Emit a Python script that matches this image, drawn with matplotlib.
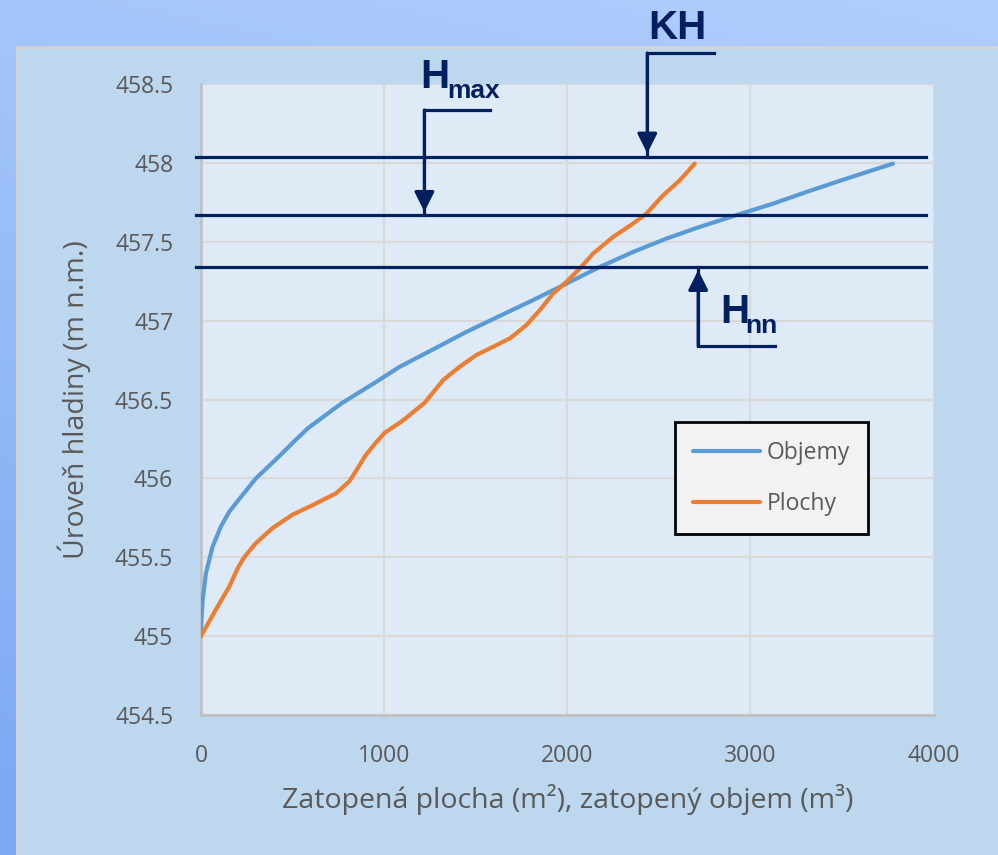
import numpy as np
import matplotlib
matplotlib.use("Agg")
import matplotlib.pyplot as plt
from matplotlib.patches import Rectangle

# ---------------- data ----------------
objemy_x = [0, 1, 9, 27, 64, 109, 155, 227, 300, 409, 518, 586, 768, 968, 1086, 1268, 1450, 1632,
            1813, 1996, 2177, 2359, 2541, 2723, 2941, 3120, 3305, 3524, 3778]
objemy_y = [455.0, 455.08, 455.23, 455.40, 455.57, 455.695, 455.79, 455.895, 456.0, 456.12, 456.245,
            456.32, 456.476, 456.62, 456.708, 456.818, 456.929, 457.03, 457.13, 457.235, 457.34,
            457.435, 457.52, 457.594, 457.675, 457.74, 457.815, 457.90, 457.995]

plochy_x = [0, 82, 155, 200, 236, 300, 391, 500, 609, 737, 809, 843, 895, 950, 1004, 1095, 1222,
            1322, 1413, 1504, 1595, 1686, 1777, 1850, 1923, 1996, 2068, 2141, 2250, 2359, 2432,
            2523, 2614, 2696]
plochy_y = [455.0, 455.17, 455.315, 455.43, 455.5, 455.59, 455.685, 455.77, 455.83, 455.905, 455.98,
            456.04, 456.14, 456.22, 456.29, 456.36, 456.48, 456.623, 456.708, 456.782, 456.834,
            456.887, 456.972, 457.066, 457.172, 457.246, 457.33, 457.425, 457.53, 457.615, 457.678,
            457.794, 457.889, 457.995]

series_labels = ["Objemy", "Plochy"]

x_ticks = [0, 1000, 2000, 3000, 4000]
x_tick_labels = ["0", "1000", "2000", "3000", "4000"]
y_ticks = [454.5, 455.0, 455.5, 456.0, 456.5, 457.0, 457.5, 458.0, 458.5]
y_tick_labels = ["454.5", "455", "455.5", "456", "456.5", "457", "457.5", "458", "458.5"]

level_KH = 458.04
level_Hmax = 457.67
level_Hnn = 457.34

x_label = "Zatopená plocha (m²), zatopený objem (m³)"
y_label = "Úroveň hladiny (m n.m.)"

# ---------------- figure ----------------
W, H = 998, 855
fig = plt.figure(figsize=(W / 100, H / 100), dpi=100)

# slide background gradient
bg = fig.add_axes([0, 0, 1, 1], zorder=-10)
yy, xx = np.mgrid[0:1:200j, 0:1:200j]
top = np.array([165, 198, 250]) / 255
bot = np.array([122, 168, 244]) / 255
right_tint = np.array([12, 8, 2]) / 255
img = top[None, None, :] * (1 - yy[..., None]) + bot[None, None, :] * yy[..., None] + right_tint * xx[..., None]
bg.imshow(np.clip(img, 0, 1), extent=[0, 1, 0, 1], aspect="auto", origin="upper")
bg.set_axis_off()

# chart panel
fig.patches.append(Rectangle((17 / W, -0.01), 1.0, 1 - 47 / H + 0.01, transform=fig.transFigure,
                             facecolor="#bdd7ee", edgecolor="#d4d4d4", linewidth=2, zorder=-5))

font = "Open Sans"
gray = "#595959"
navy = "#002060"

ax = fig.add_axes([201 / W, 1 - 715 / H, 732.5 / W, 631 / H])
ax.set_facecolor("#deeaf6")
ax.set_xlim(0, 4000)
ax.set_ylim(454.5, 458.5)

ax.set_xticks(x_ticks)
ax.set_xticklabels(x_tick_labels)
ax.set_yticks(y_ticks)
ax.set_yticklabels(y_tick_labels)
ax.tick_params(axis="both", length=0, colors=gray, labelsize=16.5)
ax.tick_params(axis="x", pad=21)
ax.tick_params(axis="y", pad=20)
for lab in ax.get_xticklabels() + ax.get_yticklabels():
    lab.set_fontfamily(font)

ax.grid(True, color="#d9d9d9", linewidth=1.6, zorder=0)
ax.set_axisbelow(True)
for s in ["top", "right"]:
    ax.spines[s].set_visible(False)
for s in ["left", "bottom"]:
    ax.spines[s].set_color("#bfbfbf")
    ax.spines[s].set_linewidth(1.8)

ax.plot(objemy_x, objemy_y, color="#5b9bd5", linewidth=3, label=series_labels[0],
        solid_capstyle="round", solid_joinstyle="round", zorder=3)
ax.plot(plochy_x, plochy_y, color="#ed7d31", linewidth=3, label=series_labels[1],
        solid_capstyle="round", solid_joinstyle="round", zorder=3)

ax.set_xlabel(x_label, fontsize=20.5, color=gray, fontfamily=font)
ax.set_ylabel(y_label, fontsize=20.5, color=gray, fontfamily=font)
ax.xaxis.set_label_coords(0.5, -0.11)
ax.yaxis.set_label_coords(-0.15, 0.5)

# level lines
line_x = [-30, 3960]
for lvl in [level_KH, level_Hmax, level_Hnn]:
    ax.plot(line_x, [lvl, lvl], color=navy, linewidth=2.3, clip_on=False, zorder=5)

arrow_kw = dict(arrowstyle="-|>,head_length=0.6,head_width=0.3", color=navy, lw=2.3,
                shrinkA=0, shrinkB=0, mutation_scale=20)

def bracket(xv, y_far, x_end, tip):
    ax.plot([x_end, xv, xv], [y_far, y_far, tip], color=navy, linewidth=2.3,
            clip_on=False, zorder=5, solid_joinstyle="miter")
    ax.annotate("", xy=(xv, tip + (0.02 if y_far > tip else -0.02)), xytext=(xv, y_far),
                arrowprops=arrow_kw, annotation_clip=False, zorder=6)

bracket(2437, 458.696, 2802, level_KH)
bracket(1220, 458.335, 1580, level_Hmax)
bracket(2715, 456.84, 3135, level_Hnn)

tf = "Liberation Sans"
ax.text(2600, 458.785, "KH", fontsize=29, fontweight="bold", color=navy, fontfamily=tf,
        ha="center", va="baseline", clip_on=False)
ax.text(1195, 458.475, "H", fontsize=29, fontweight="bold", color=navy, fontfamily=tf,
        ha="left", va="baseline", clip_on=False)
ax.text(1342, 458.41, "max", fontsize=19, fontweight="bold", color=navy, fontfamily=tf,
        ha="left", va="baseline", clip_on=False)
ax.text(2835, 456.987, "H", fontsize=29, fontweight="bold", color=navy, fontfamily=tf,
        ha="left", va="baseline", clip_on=False)
ax.text(2974, 456.924, "nn", fontsize=19, fontweight="bold", color=navy, fontfamily=tf,
        ha="left", va="baseline", clip_on=False)

leg = ax.legend(loc="upper left", bbox_to_anchor=(0.647, 0.464), frameon=True, fancybox=False,
                framealpha=1, facecolor="#f2f2f2", edgecolor="black",
                handlelength=2.9, handletextpad=0.3, labelspacing=1.2, borderpad=0.8,
                borderaxespad=0, prop={"family": font, "size": 16.5})
leg.get_frame().set_linewidth(2)
for t in leg.get_texts():
    t.set_color(gray)

fig.savefig("out.png", dpi=100)
